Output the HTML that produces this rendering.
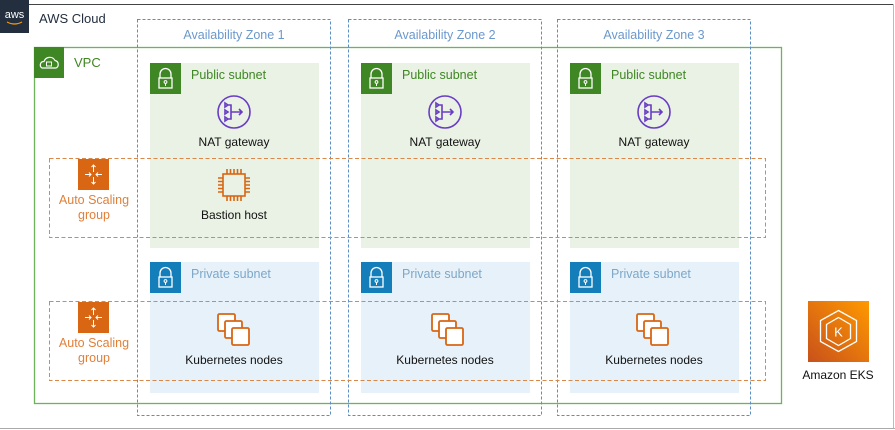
<!DOCTYPE html>
<html><head><style>body{margin:0;background:#fff}svg{display:block}text{font-family:"Liberation Sans",Arial,sans-serif}</style></head><body>
<svg width="895" height="430" viewBox="0 0 895 430">
<defs>
<g id="lock"><rect width="31" height="31" fill="#3f8624"/><path d="M10 15v-4a5.5 5.5 0 0 1 11 0v4" fill="none" stroke="#fff" stroke-width="1.3"/><rect x="9" y="15" width="13" height="10" fill="none" stroke="#fff" stroke-width="1.3"/><circle cx="15.5" cy="19" r="1.4" fill="none" stroke="#fff"/><line x1="15.5" y1="20.4" x2="15.5" y2="23" stroke="#fff"/></g>
<g id="plock"><rect width="31" height="31" fill="#147eba"/><path d="M10 15v-4a5.5 5.5 0 0 1 11 0v4" fill="none" stroke="#fff" stroke-width="1.3"/><rect x="9" y="15" width="13" height="10" fill="none" stroke="#fff" stroke-width="1.3"/><circle cx="15.5" cy="19" r="1.4" fill="none" stroke="#fff"/><line x1="15.5" y1="20.4" x2="15.5" y2="23" stroke="#fff"/></g>
<g id="nat" fill="none" stroke="#693cc5" stroke-width="1.6"><circle r="16"/><path d="M-7 -7h4v14h-4M-3 0h11M5 -3l3 3-3 3M-9 -9l3 2-3 2zM-9 -2l3 2-3 2zM-9 5l3 2-3 2z"/></g>
<g id="asg"><rect width="31" height="31" fill="#d86613"/><g stroke="#fff" stroke-width="1" fill="none"><path d="M15.5 6v7M13.5 8l2-2 2 2M15.5 25v-7M13.5 23l2 2 2-2M7 15.5h6M11 13.5l2 2-2 2M24 15.5h-6M20 13.5l-2 2 2 2"/></g></g>
<g id="k8s" fill="#fff" stroke="#d86613" stroke-width="1.8"><rect x="-16" y="-16" width="17" height="17" rx="1.5"/><rect x="-9" y="-9" width="17" height="17" rx="1.5"/><rect x="-2" y="-2" width="17" height="17" rx="1.5"/></g>
</defs>
<line x1="29" y1="4.5" x2="893" y2="4.5" stroke="#444"/>
<line x1="893.5" y1="4" x2="893.5" y2="429" stroke="#bbb"/>
<line x1="0" y1="428.5" x2="895" y2="428.5" stroke="#aaa"/>
<rect x="0" y="0" width="29" height="33" fill="#232f3e"/>
<text x="14.5" y="18" fill="#fff" font-size="11" text-anchor="middle">aws</text>
<path d="M7 22q7.5 4 15 0" stroke="#f90" fill="none" stroke-width="1.2"/>
<text x="39" y="23" font-size="13" fill="#232f3e">AWS Cloud</text>
<!-- VPC -->
<rect x="34.5" y="47.5" width="747" height="356" fill="none" stroke="#6cb35a" stroke-width="1.3"/>
<rect x="34" y="47" width="30" height="31" fill="#3f8624"/>
<path d="M42 68h14a4 4 0 0 0 -1-7.5a6 6 0 0 0 -11 1a3.5 3.5 0 0 0 -2 6.5z" fill="none" stroke="#fff" stroke-width="1.2"/>
<rect x="46.5" y="62" width="5" height="4" fill="none" stroke="#fff"/>
<text x="74" y="67" font-size="13" fill="#3f8624">VPC</text>
<g>
<rect x="150" y="63" width="169" height="185" fill="#e9f2e4"/><rect x="361" y="63" width="169" height="185" fill="#e9f2e4"/><rect x="570" y="63" width="169" height="185" fill="#e9f2e4"/>
<rect x="150" y="262" width="169" height="131" fill="#e6f1f9"/><rect x="361" y="262" width="169" height="131" fill="#e6f1f9"/><rect x="570" y="262" width="169" height="131" fill="#e6f1f9"/>
</g>
<g font-size="12.5">
<use href="#lock" x="150" y="63"/><text x="191" y="79" fill="#3f8624">Public subnet</text>
<use href="#lock" x="361" y="63"/><text x="402" y="79" fill="#3f8624">Public subnet</text>
<use href="#lock" x="570" y="63"/><text x="611" y="79" fill="#3f8624">Public subnet</text>
<use href="#plock" x="150" y="262"/><text x="191" y="278" fill="#7ea7c9">Private subnet</text>
<use href="#plock" x="361" y="262"/><text x="402" y="278" fill="#7ea7c9">Private subnet</text>
<use href="#plock" x="570" y="262"/><text x="611" y="278" fill="#7ea7c9">Private subnet</text>
</g>
<g fill="none" stroke="#5a8ec4" stroke-dasharray="3,2">
<rect x="137.5" y="19.5" width="193" height="396"/><rect x="348.5" y="19.5" width="193" height="396"/><rect x="557.5" y="19.5" width="193" height="396"/>
</g>
<g font-size="12.5" fill="#6b98cc" text-anchor="middle">
<text x="234" y="39">Availability Zone 1</text><text x="445" y="39">Availability Zone 2</text><text x="654" y="39">Availability Zone 3</text>
</g>
<g fill="none" stroke="#d9884a" stroke-dasharray="4,2.5">
<rect x="49.5" y="158.5" width="716" height="79"/><rect x="49.5" y="301.5" width="716" height="79"/>
</g>
<use href="#asg" x="78" y="159"/><use href="#asg" x="78" y="302"/>
<g font-size="12.5" fill="#e0803a" text-anchor="middle">
<text x="94" y="204">Auto Scaling</text><text x="94" y="219">group</text>
<text x="94" y="347">Auto Scaling</text><text x="94" y="362">group</text>
</g>
<use href="#nat" x="234" y="112"/><use href="#nat" x="445" y="112"/><use href="#nat" x="654" y="112"/>
<g transform="translate(234,185)" fill="none" stroke="#d86613" stroke-width="1.6"><rect x="-11" y="-11" width="22" height="22"/><path d="M-7 -11v-5M-3.5 -11v-5M0 -11v-5M3.5 -11v-5M7 -11v-5M-7 11v5M-3.5 11v5M0 11v5M3.5 11v5M7 11v5M-11 -7h-5M-11 -3.5h-5M-11 0h-5M-11 3.5h-5M-11 7h-5M11 -7h5M11 -3.5h5M11 0h5M11 3.5h5M11 7h5"/></g>
<use href="#k8s" x="234" y="330"/><use href="#k8s" x="448" y="330"/><use href="#k8s" x="653" y="330"/>
<g font-size="12" fill="#111" text-anchor="middle">
<text x="234" y="146">NAT gateway</text><text x="445" y="146">NAT gateway</text><text x="654" y="146">NAT gateway</text>
<text x="234" y="219">Bastion host</text>
<text x="234" y="364">Kubernetes nodes</text><text x="445" y="364">Kubernetes nodes</text><text x="654" y="364">Kubernetes nodes</text>
<text x="838" y="379">Amazon EKS</text>
</g>
<defs><linearGradient id="eg" x1="0" y1="1" x2="1" y2="0"><stop offset="0" stop-color="#c8511b"/><stop offset="1" stop-color="#f90"/></linearGradient></defs>
<rect x="808" y="301" width="61" height="61" fill="url(#eg)"/>
<g fill="none" stroke="#fff" stroke-width="1.3" transform="translate(838.5,331.5)"><path d="M0 -21l18 10v21l-18 10-18-10v-21z"/><path d="M0 -14l12 7v14l-12 7-12-7v-14z"/><text x="0" y="5" font-size="13" fill="#fff" stroke="none" text-anchor="middle">K</text></g>
</svg>
</body></html>
